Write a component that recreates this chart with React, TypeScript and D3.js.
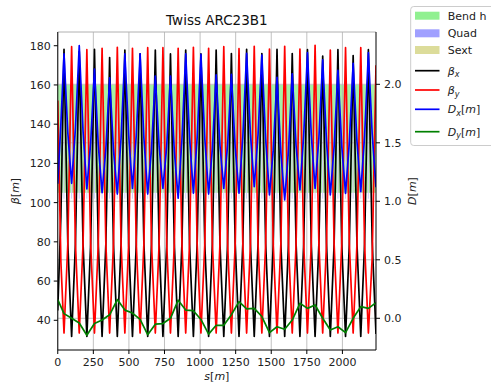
import * as d3 from "d3";

// optics sampled at start, each quad centre (QF, QD alternating) and end [m]
const sPts = [
  0,
  44, 97.5, 151, 204.5, 258, 311.5, 364.5, 418.5, 471.5, 525,
  578.5, 632, 685.5, 739, 792, 846, 899, 953, 1006, 1060,
  1113, 1166.5, 1220, 1273.5, 1327, 1380.5, 1434, 1487.5, 1540.5, 1594.5,
  1647.5, 1701.5, 1754.5, 1808, 1861.5, 1915, 1968.5, 2022, 2075.5, 2129,
  2182.5,
  2236,
];

const betaX = [
  45,
  178.2, 31.8, 177, 31.8, 178.2, 31.8, 174, 31.8, 177.8, 31.8,
  175.8, 31.8, 177.8, 31.8, 175.8, 31.8, 177.8, 31.8, 175.8, 31.8,
  177.8, 31.8, 176, 31.8, 178.2, 31.8, 176, 31.8, 178.2, 31.8,
  176, 31.8, 178, 31.8, 174.7, 31.8, 178, 31.8, 175, 31.8,
  178,
  33,
];

const betaY = [
  152,
  33.5, 179.5, 33.5, 178, 33.5, 178.7, 33.5, 179.2, 33.5, 178.7,
  33.5, 179, 33.5, 179, 33.5, 178.7, 33.5, 179.2, 33.5, 178.7,
  33.5, 179.5, 33.5, 178.5, 33.5, 179.7, 33.5, 178.3, 33.5, 179.7,
  33.5, 178.3, 33.5, 180.2, 33.5, 177.8, 33.5, 179, 33.5, 179,
  33.5,
  170,
];

const dispX = [
  1.15,
  2.26, 1.154, 2.33, 1.105, 2.13, 1.074, 2.055, 1.062, 2.26, 1.11,
  2.26, 1.062, 2.07, 1.11, 2.07, 1.027, 2.26, 1.07, 2.255, 1.062,
  2.08, 1.11, 2.085, 1.07, 2.265, 1.125, 2.25, 1.054, 2.06, 1.011,
  2.09, 1.097, 2.27, 1.11, 2.21, 1.054, 2.12, 1.068, 2.18, 1.082,
  2.27,
  1.12,
];

const dispY = [
  0.16,
  0.04, 0.0, -0.04, -0.145, -0.045, -0.015, 0.03, 0.16, 0.07, 0.045,
  -0.01, -0.14, -0.05, -0.045, 0.0, 0.155, 0.07, 0.065, -0.01, -0.135,
  -0.06, -0.06, 0.03, 0.142, 0.08, 0.085, 0.015, -0.123, -0.072, -0.094,
  -0.015, 0.128, 0.085, 0.114, 0.0, -0.1, -0.072, -0.123, 0.0, 0.1,
  0.085,
  0.133,
];

// extra samples half way between the quads (beta and Dx are curved there)
const sMid = [
  22,
  70.75, 124.25, 177.75, 231.25, 284.75, 338, 391.5, 445, 498.25, 551.75,
  605.25, 658.75, 712.25, 765.5, 819, 872.5, 926, 979.5, 1033, 1086.5,
  1139.75, 1193.25, 1246.75, 1300.25, 1353.75, 1407.25, 1460.75, 1514, 1567.5, 1621,
  1674.5, 1728, 1781.25, 1834.75, 1888.25, 1941.75, 1995.25, 2048.75, 2102.25, 2155.75,
  2209.25,
];

const betaXMid = [
  93,
  79, 79, 79, 79, 79, 79, 79, 79, 79, 79,
  79, 79, 79, 79, 79, 79, 79, 79, 79, 79,
  79, 79, 79, 79, 79, 79, 79, 79, 79, 79,
  79, 79, 79, 79, 79, 79, 79, 79, 79, 79,
  80,
];

const betaYMid = [
  70,
  79, 79, 79, 79, 79, 79, 79, 79, 79, 79,
  79, 79, 79, 79, 79, 79, 79, 79, 79, 79,
  79, 79, 79, 79, 79, 79, 79, 79, 79, 79,
  79, 79, 79, 79, 79, 79, 79, 79, 79, 79,
  72,
];

const dispXMid = [
  1.66,
  1.587, 1.622, 1.598, 1.498, 1.482, 1.445, 1.439, 1.541, 1.565, 1.565,
  1.541, 1.446, 1.47, 1.47, 1.429, 1.524, 1.545, 1.543, 1.539, 1.451,
  1.475, 1.478, 1.458, 1.548, 1.575, 1.568, 1.532, 1.437, 1.416, 1.431,
  1.474, 1.564, 1.57, 1.54, 1.512, 1.467, 1.474, 1.504, 1.511, 1.556,
  1.575,
];

// element centres [m]
const quadS = [
  -9.5,
  44, 97.5, 151, 204.5, 258, 311.5, 364.5, 418.5, 471.5, 525,
  578.5, 632, 685.5, 739, 792, 846, 899, 953, 1006, 1060,
  1113, 1166.5, 1220, 1273.5, 1327, 1380.5, 1434, 1487.5, 1540.5, 1594.5,
  1647.5, 1701.5, 1754.5, 1808, 1861.5, 1915, 1968.5, 2022, 2075.5, 2129,
  2182.5, 2239,
];
const quadLen = 3.1;
const bendGap = 4;

const xTicks = [0, 250, 500, 750, 1000, 1250, 1500, 1750, 2000];
const betaTicks = [40, 60, 80, 100, 120, 140, 160, 180];
const dTicks = [0.0, 0.5, 1.0, 1.5, 2.0];

const legendItems = [
  { kind: "patch", color: "#90f090", label: ["Bend h"] },
  { kind: "patch", color: "#a0a0ff", label: ["Quad"] },
  { kind: "patch", color: "#dcdc9a", label: ["Sext"] },
  { kind: "line", color: "black", label: ["β", "x"] },
  { kind: "line", color: "red", label: ["β", "y"] },
  { kind: "line", color: "blue", label: ["D", "x", "[m]"] },
  { kind: "line", color: "green", label: ["D", "y", "[m]"] },
];

function withMid(vals: number[], mids: number[]): [number, number][] {
  const out: [number, number][] = [];
  sPts.forEach((s, i) => {
    out.push([s, vals[i]]);
    if (i < mids.length) out.push([sMid[i], mids[i]]);
  });
  return out;
}

export default function App() {
  const W = 491;
  const H = 388;
  const L = 57.75, R = 376, T = 32, B = 350;
  const font = "DejaVu Sans, sans-serif";

  const x = d3.scaleLinear().domain([0, 2236]).range([L, R]);
  const yB = d3.scaleLinear().domain([24.85, 187]).range([B, T]);
  const yD = d3.scaleLinear().domain([-0.271, 2.447]).range([B, T]);

  const lineB = d3.line<[number, number]>().x((d) => x(d[0])).y((d) => yB(d[1]));
  const lineD = d3.line<[number, number]>().x((d) => x(d[0])).y((d) => yD(d[1]));

  const bx = withMid(betaX, betaXMid);
  const by = withMid(betaY, betaYMid);
  const dx = withMid(dispX, dispXMid);
  const dy = sPts.map((s, i) => [s, dispY[i]] as [number, number]);

  const bends = d3.pairs(quadS).map(([a, b]) => [a + bendGap, b - bendGap]);

  const legendY = [15.7, 33.3, 50, 70.7, 90, 109.3, 131.7];

  return (
    <svg width={W} height={H} style={{ position: "absolute", left: 0, top: 0 }} fontFamily={font}>
      <rect width={W} height={H} fill="white" />
      <defs>
        <clipPath id="plot">
          <rect x={L} y={T} width={R - L} height={B - T} />
        </clipPath>
      </defs>
      <g clipPath="url(#plot)">
        {bends.map(([a, b], i) => (
          <rect key={"b" + i} x={x(a)} width={x(b) - x(a)} y={yB(160)} height={yB(105) - yB(160)} fill="#90ee90" opacity={0.8} />
        ))}
        {quadS.map((q, i) => (
          <rect key={"q" + i} x={x(q - quadLen / 2) - 0.3} width={Math.max(1, x(q + quadLen / 2) - x(q - quadLen / 2))} y={yB(160)} height={yB(102) - yB(160)} fill="#a0a0ff" opacity={0.5} />
        ))}
        {quadS.map((q, i) => (
          <rect key={"s" + i} x={x(q + 2.6)} width={0.6} y={yB(160)} height={yB(105) - yB(160)} fill="#bdb76b" opacity={0.6} />
        ))}
        {xTicks.map((t) => (
          <line key={"gx" + t} x1={x(t)} x2={x(t)} y1={T} y2={B} stroke="#b0b0b0" strokeWidth={0.8} />
        ))}
        {dTicks.map((t) => (
          <line key={"gy" + t} x1={L} x2={R} y1={yD(t)} y2={yD(t)} stroke="#b0b0b0" strokeWidth={0.8} />
        ))}
        <path d={lineB(bx) || ""} fill="none" stroke="black" strokeWidth={1.7} strokeLinejoin="round" />
        <path d={lineB(by) || ""} fill="none" stroke="red" strokeWidth={1.7} strokeLinejoin="round" />
        <path d={lineD(dx) || ""} fill="none" stroke="blue" strokeWidth={1.7} strokeLinejoin="round" />
        <path d={lineD(dy) || ""} fill="none" stroke="green" strokeWidth={1.7} strokeLinejoin="round" />
      </g>

      {/* spines */}
      <line x1={L} x2={R} y1={T} y2={T} stroke="#b0b0b0" strokeWidth={1} />
      <line x1={L} x2={L} y1={T} y2={B} stroke="black" strokeWidth={1} />
      <line x1={R} x2={R} y1={T} y2={B} stroke="black" strokeWidth={1} />
      <line x1={L} x2={R} y1={B} y2={B} stroke="black" strokeWidth={1} />

      {/* x axis */}
      {xTicks.map((t) => (
        <g key={"tx" + t}>
          <line x1={x(t)} x2={x(t)} y1={B} y2={B + 4} stroke="black" />
          <text x={x(t)} y={366} fontSize={11} textAnchor="middle" fill="#222">{t}</text>
        </g>
      ))}
      {/* left axis */}
      {betaTicks.map((t) => (
        <g key={"tb" + t}>
          <line x1={L - 4} x2={L} y1={yB(t)} y2={yB(t)} stroke="black" />
          <text x={L - 7} y={yB(t) + 4} fontSize={11} textAnchor="end" fill="#222">{t}</text>
        </g>
      ))}
      {/* right axis */}
      {dTicks.map((t) => (
        <g key={"td" + t}>
          <line x1={R} x2={R + 4} y1={yD(t)} y2={yD(t)} stroke="black" />
          <text x={R + 8} y={yD(t) + 4} fontSize={11} textAnchor="start" fill="#222">{t.toFixed(1)}</text>
        </g>
      ))}

      {/* labels */}
      <text x={(L + R) / 2} y={25} fontSize={13.5} textAnchor="middle" fill="#111">Twiss ARC23B1</text>
      <text x={(L + R) / 2} y={380} fontSize={11} textAnchor="middle" fill="#222">
        <tspan fontStyle="italic">s</tspan>[<tspan fontStyle="italic">m</tspan>]
      </text>
      <text transform={`translate(19,${(T + B) / 2}) rotate(-90)`} fontSize={11} textAnchor="middle" fill="#222">
        <tspan fontStyle="italic">β</tspan>[<tspan fontStyle="italic">m</tspan>]
      </text>
      <text transform={`translate(416,${(T + B) / 2}) rotate(-90)`} fontSize={11} textAnchor="middle" fill="#222">
        <tspan fontStyle="italic">D</tspan>[<tspan fontStyle="italic">m</tspan>]
      </text>

      {/* legend */}
      <rect x={410.7} y={6.5} width={100} height={139} rx={3} fill="white" fillOpacity={0.8} stroke="#cccccc" />
      {legendItems.map((d, i) => (
        <g key={"lg" + i}>
          {d.kind === "patch" ? (
            <rect x={415} y={legendY[i] - 4} width={24.5} height={8} fill={d.color} />
          ) : (
            <line x1={415} x2={439.5} y1={legendY[i]} y2={legendY[i]} stroke={d.color} strokeWidth={1.7} />
          )}
          <text x={447.7} y={legendY[i] + 4} fontSize={11} fill="#222">
            {d.label.length === 1 ? (
              d.label[0]
            ) : (
              <>
                <tspan fontStyle="italic">{d.label[0]}</tspan>
                <tspan fontStyle="italic" fontSize={8} dy={2.5}>{d.label[1]}</tspan>
                {d.label[2] ? (
                  <tspan dy={-2.5}>
                    [<tspan fontStyle="italic">m</tspan>]
                  </tspan>
                ) : null}
              </>
            )}
          </text>
        </g>
      ))}
    </svg>
  );
}
